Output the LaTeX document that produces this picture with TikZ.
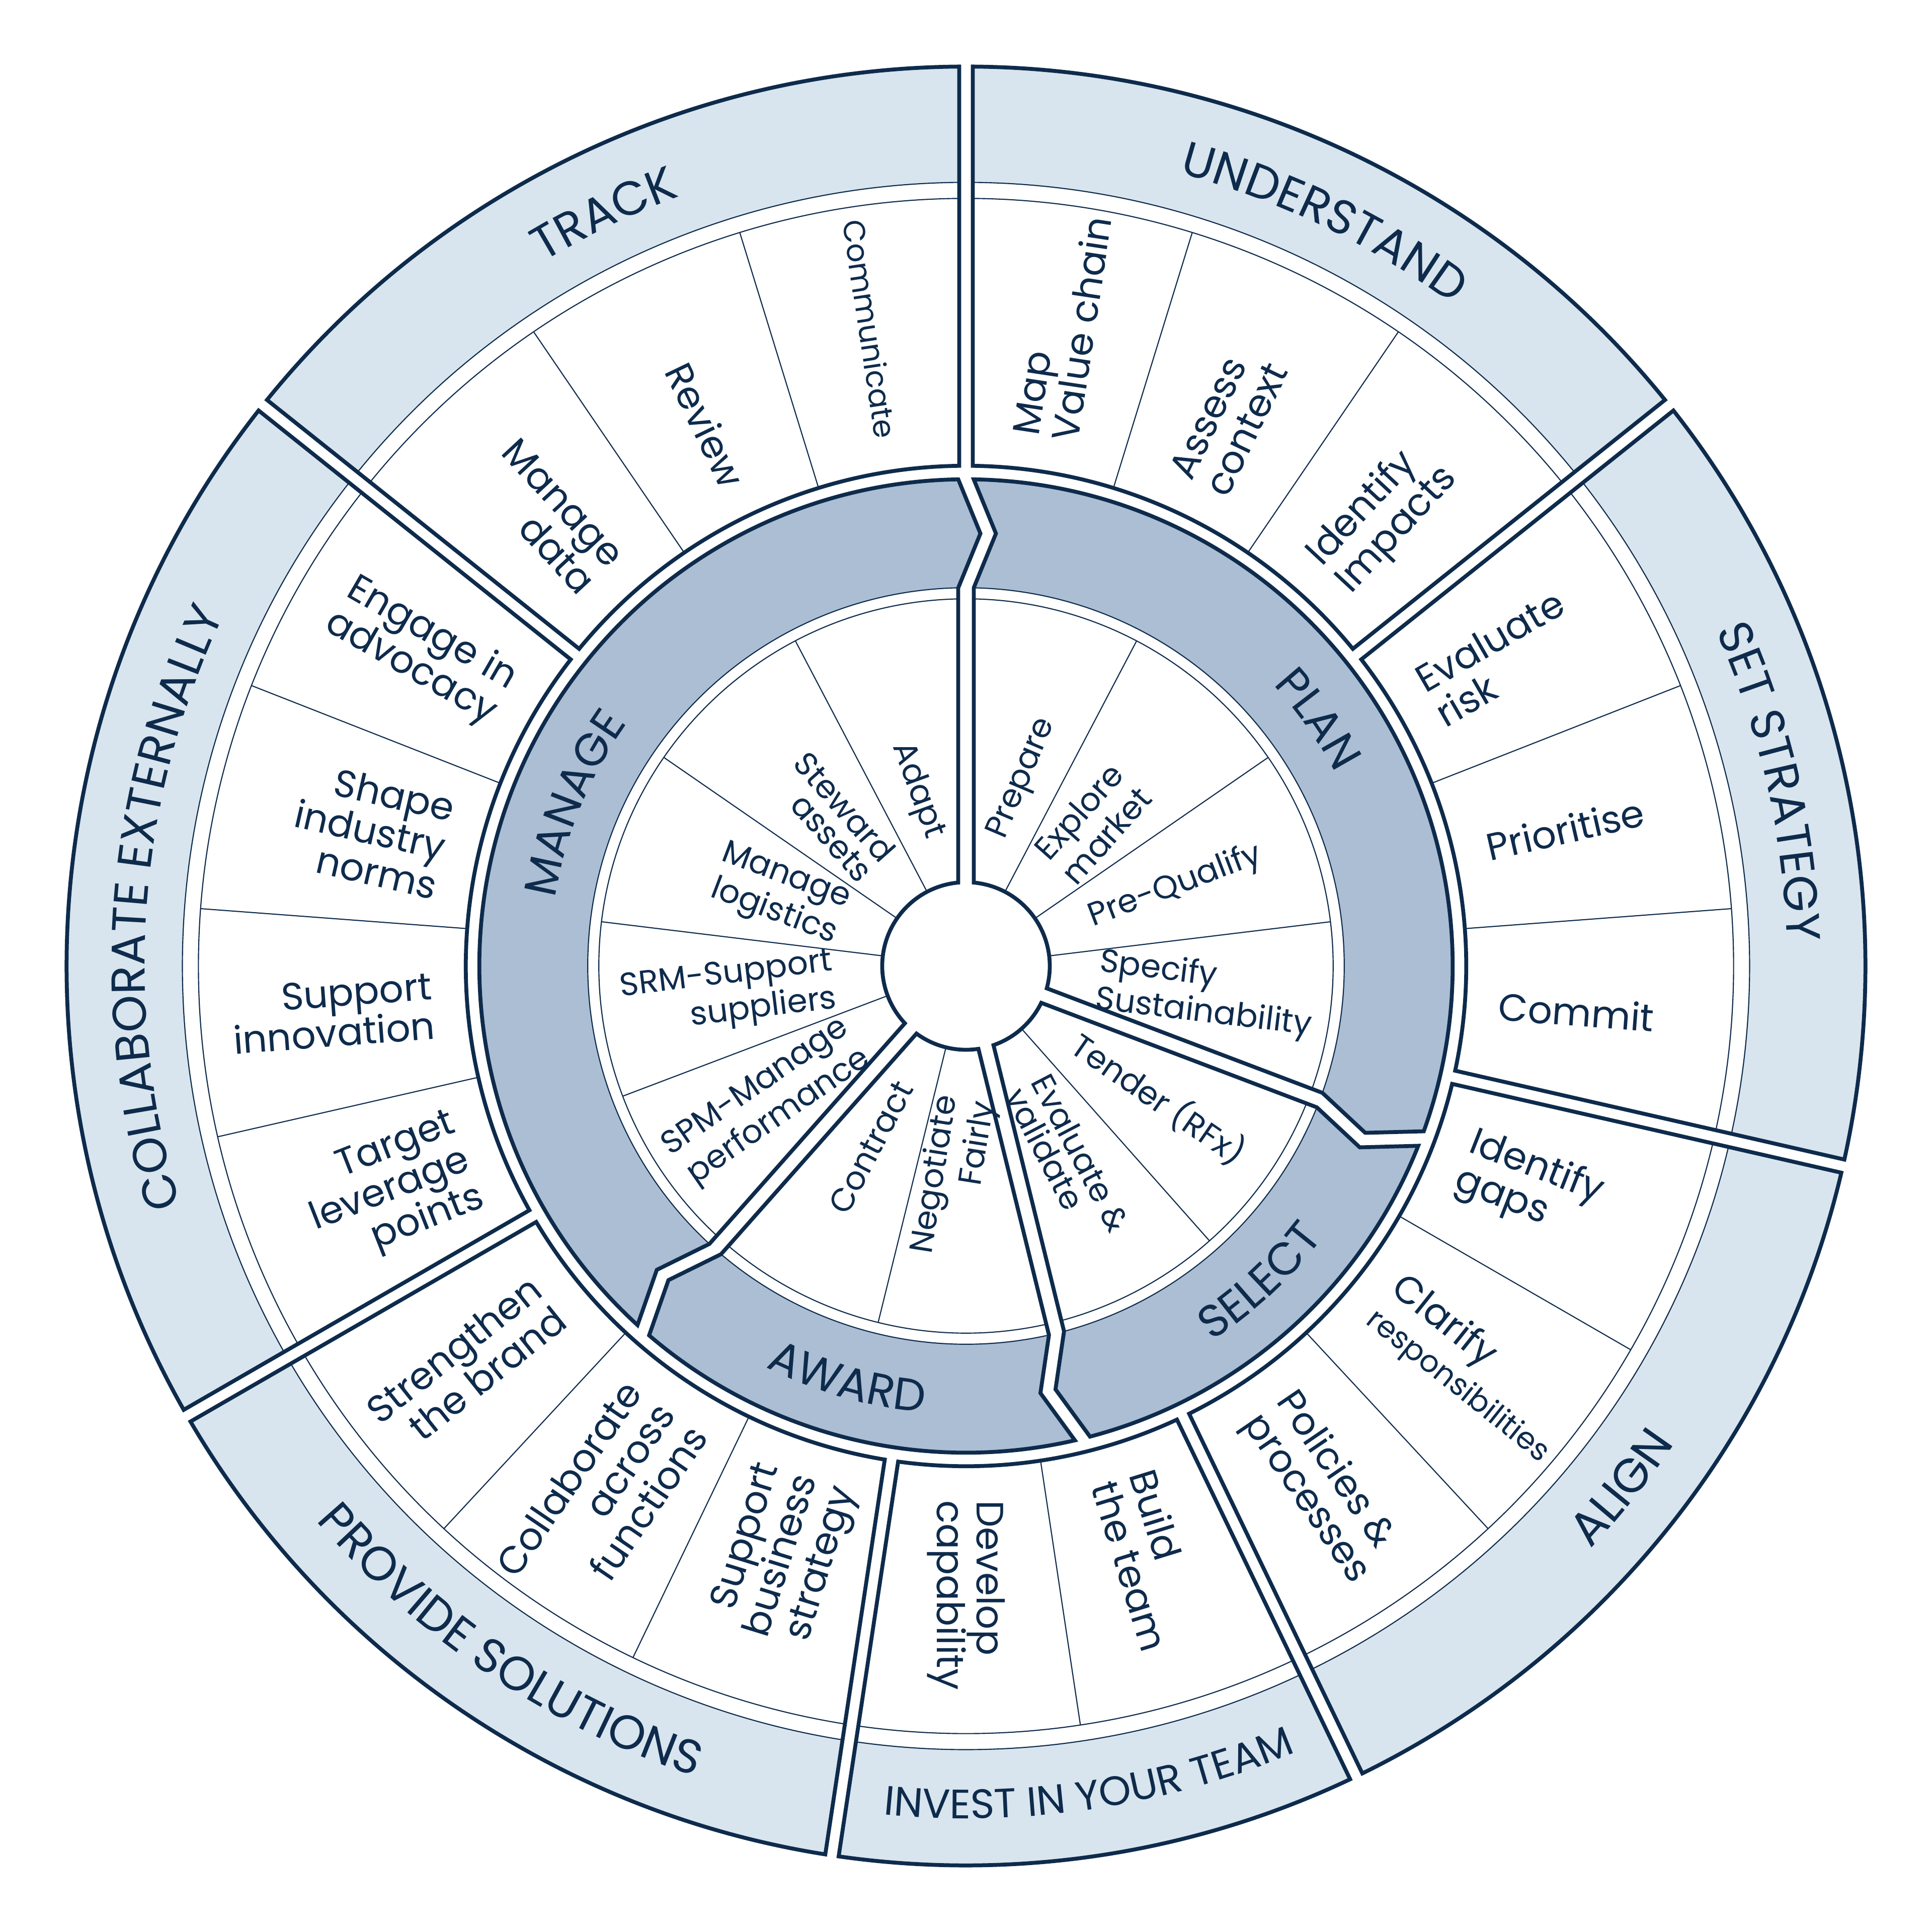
\documentclass[tikz,border=0pt]{standalone}
\usepackage{fontspec}
\setmainfont{Poppins}
\usepackage{tikz}
\usetikzlibrary{decorations.text}
\definecolor{navy}{HTML}{0E2B4C}
\definecolor{band-blue}{HTML}{D8E5EE}
\definecolor{ring-blue}{HTML}{ABBED3}
\newcommand{\cellfont}{\fontsize{8.8}{9.2}\selectfont}
\newcommand{\smallcellfont}{\fontsize{7}{8}\selectfont}
\newcommand{\hubfont}{\fontsize{7.5}{6.9}\selectfont}
\newcommand{\bandfont}{\fontsize{11}{13}\selectfont}
\newcommand{\ringfont}{\fontsize{10.5}{12}\selectfont}
\newcommand{\teamfont}{\fontsize{9.5}{11}\selectfont}
\tikzset{
    thick-line/.style = {draw=navy, line width=0.9pt},
    thin-line/.style = {draw=navy, line width=0.25pt},
    cell-text/.style = {text=navy, font=\cellfont, inner sep=0pt},
    hub-text/.style = {text=navy, font=\hubfont, inner sep=0pt},
    out-read/.style = {anchor=west, align=left, rotate=#1},
    in-read/.style = {anchor=east, align=right, rotate=#1+180},
    band-label/.style = {decorate, decoration={text along path, text align=center, text color=navy, text={#1}}},
}

\begin{document}
\begin{tikzpicture}
\useasboundingbox (-7.84,-7.84) rectangle (7.84,7.84);
\fill[white] (-7.84,-7.84) rectangle (7.84,7.84);

% outer ring: seven segments, band on the outside, cells inside
\def\gapo{0.055}
\foreach \a/\b in {90/38.571, 38.571/-12.857, -12.857/-64.286, -64.286/-98.571, -98.571/-150, -150/-218.571, -218.571/-270}{
  \fill[band-blue] ({\a-asin(\gapo/7.3)}:7.3) arc[start angle={\a-asin(\gapo/7.3)}, end angle={\b+asin(\gapo/7.3)}, radius=7.3]
    -- ({\b+asin(\gapo/6.36)}:6.36) arc[start angle={\b+asin(\gapo/6.36)}, end angle={\a-asin(\gapo/6.36)}, radius=6.36] -- cycle;
  \draw[thin-line] ({\b+asin(\gapo/6.36)}:6.36) arc[start angle={\b+asin(\gapo/6.36)}, end angle={\a-asin(\gapo/6.36)}, radius=6.36];
  \draw[thin-line] ({\b+asin(\gapo/6.23)}:6.23) arc[start angle={\b+asin(\gapo/6.23)}, end angle={\a-asin(\gapo/6.23)}, radius=6.23];
  \draw[thick-line] ({\a-asin(\gapo/7.3)}:7.3) arc[start angle={\a-asin(\gapo/7.3)}, end angle={\b+asin(\gapo/7.3)}, radius=7.3]
    -- ({\b+asin(\gapo/4.06)}:4.06) arc[start angle={\b+asin(\gapo/4.06)}, end angle={\a-asin(\gapo/4.06)}, radius=4.06] -- cycle;
}
\foreach \k in {1,2,4,5,7,8,10,12,13,15,16,17,19,20}
  \draw[thin-line] ({90-\k*360/21}:4.06) -- ({90-\k*360/21}:6.23);

% process ring: four segments with arrow ends, running to the hub
\def\gapi{0.063}
\def\tipo{0.18}
\foreach \a/\b in {90/-20.769, -20.769/-76.154, -76.154/-131.538, 228.462/90}{
  \filldraw[fill=ring-blue, thin-line] ({\a-asin(\gapi/3.95)}:3.95) arc[start angle={\a-asin(\gapi/3.95)}, end angle={\b+asin(\gapi/3.95)}, radius=3.95]
    -- ({\b+atan((\gapi-\tipo)/3.51)}:{veclen(3.51,\gapi-\tipo)})
    -- ({\b+asin(\gapi/3.07)}:3.07) arc[start angle={\b+asin(\gapi/3.07)}, end angle={\a-asin(\gapi/3.07)}, radius=3.07]
    -- ({\a-atan((\gapi+\tipo)/3.51)}:{veclen(3.51,\gapi+\tipo)}) -- cycle;
  \draw[thin-line] ({\b+asin(\gapi/2.98)}:2.98) arc[start angle={\b+asin(\gapi/2.98)}, end angle={\a-asin(\gapi/2.98)}, radius=2.98];
  \draw[thick-line] ({\a-asin(\gapi/3.95)}:3.95) arc[start angle={\a-asin(\gapi/3.95)}, end angle={\b+asin(\gapi/3.95)}, radius=3.95]
    -- ({\b+atan((\gapi-\tipo)/3.51)}:{veclen(3.51,\gapi-\tipo)})
    -- ({\b+asin(\gapi/3.07)}:3.07) -- ({\b+asin(\gapi/0.68)}:0.68)
    arc[start angle={\b+asin(\gapi/0.68)}, end angle={\a-asin(\gapi/0.68)}, radius=0.68]
    -- ({\a-asin(\gapi/3.07)}:3.07) -- ({\a-atan((\gapi+\tipo)/3.51)}:{veclen(3.51,\gapi+\tipo)}) -- cycle;
}
\foreach \k in {1,2,3,5,7,9,10,11,12}
  \draw[thin-line] ({90-\k*360/13}:0.68) -- ({90-\k*360/13}:2.98);

% outer cell texts
\foreach \ang/\txt [count=\i] in {81.43/{Map\\Value chain}, 64.29/{Assess\\context}, 47.14/{Identify\\Impacts},
    30/{Evaluate\\risk}, 12.86/{Prioritise}, -4.29/{Commit}, -21.43/{Identify\\gaps},
    -38.57/{Clarify\\{\smallcellfont responsibilities}}, -55.71/{Policies \&\\processes},
    -72.86/{Build\\the team}, -90/{Develop\\capability}}
  \node[cell-text, out-read=\ang] (out-cell-\i) at (\ang:4.33) {\txt};
\foreach \ang/\txt [count=\i] in {-107.14/{Support\\business\\strategy}, -124.29/{Collaborate\\across\\functions},
    -141.43/{Strengthen\\the brand}, -158.57/{Target\\leverage\\points}, -175.71/{Support\\innovation},
    -192.86/{Shape\\industry\\norms}, -210/{Engage in\\advocacy}, 132.86/{Manage\\data},
    115.71/{Review}, 98.57/{\smallcellfont Communicate}}
  \node[cell-text, in-read=\ang] (in-cell-\i) at (\ang:4.33) {\txt};

% hub cell texts
\node[hub-text, anchor=west, rotate=67] (hub-prepare) at (76.15:1.07) {Prepare};
\foreach \ang/\txt [count=\i] in {48.46/{Explore\\market}, 20.77/{Pre-Qualify},
    -6.92/{Specify\\Sustainability}, -34.62/{Tender (RFx)}, -62.31/{Evaluate \&\\validate}}
  \node[hub-text, out-read=\ang] (hub-out-\i) at (\ang:1.07) {\txt};
\foreach \ang/\txt [count=\i] in {-117.69/{Contract}, -145.38/{SPM-Manage\\performance},
    -173.08/{SRM-Support\\suppliers}, -200.77/{Manage\\logistics}, 131.54/{Steward\\assets}}
  \node[hub-text, in-read=\ang] (hub-in-\i) at (\ang:1.07) {\txt};
\node[hub-text, anchor=east, rotate=-70] (hub-adapt) at (103.85:1.07) {Adapt};
\node[hub-text, anchor=east, align=right, rotate=81] (hub-negotiate) at (-89.5:1.07) {Negotiate\\Fairly};

% process ring labels
\path[band-label={|\ringfont|PLAN}] (85:3.38) arc[start angle=85, end angle=-15, radius=3.38];
\path[band-label={|\ringfont|SELECT}] (-72:3.64) arc[start angle=-72, end angle=-22, radius=3.64];
\path[band-label={|\ringfont|AWARD}] (-128:3.64) arc[start angle=-128, end angle=-84, radius=3.64];
\path[band-label={|\ringfont|MANAGE}] (222:3.38) arc[start angle=222, end angle=93, radius=3.38];

% outer band labels
\path[band-label={|\bandfont|TRACK}] (140:6.665) arc[start angle=140, end angle=91.4, radius=6.665];
\path[band-label={|\bandfont|UNDERSTAND}] (89:6.665) arc[start angle=89, end angle=39.6, radius=6.665];
\path[band-label={|\bandfont|SET STRATEGY}] (38:6.665) arc[start angle=38, end angle=-12.2, radius=6.665];
\path[band-label={|\bandfont|ALIGN}] (-63:6.935) arc[start angle=-63, end angle=-14, radius=6.935];
\path[band-label={|\teamfont|INVEST IN YOUR TEAM}] (-98:6.92) arc[start angle=-98, end angle=-64.8, radius=6.92];
\path[band-label={|\bandfont|PROVIDE SOLUTIONS}] (-149:6.935) arc[start angle=-149, end angle=-99, radius=6.935];
\path[band-label={|\bandfont|COLLABORATE EXTERNALLY}] (209:6.665) arc[start angle=209, end angle=142.6, radius=6.665];
\end{tikzpicture}
\end{document}
